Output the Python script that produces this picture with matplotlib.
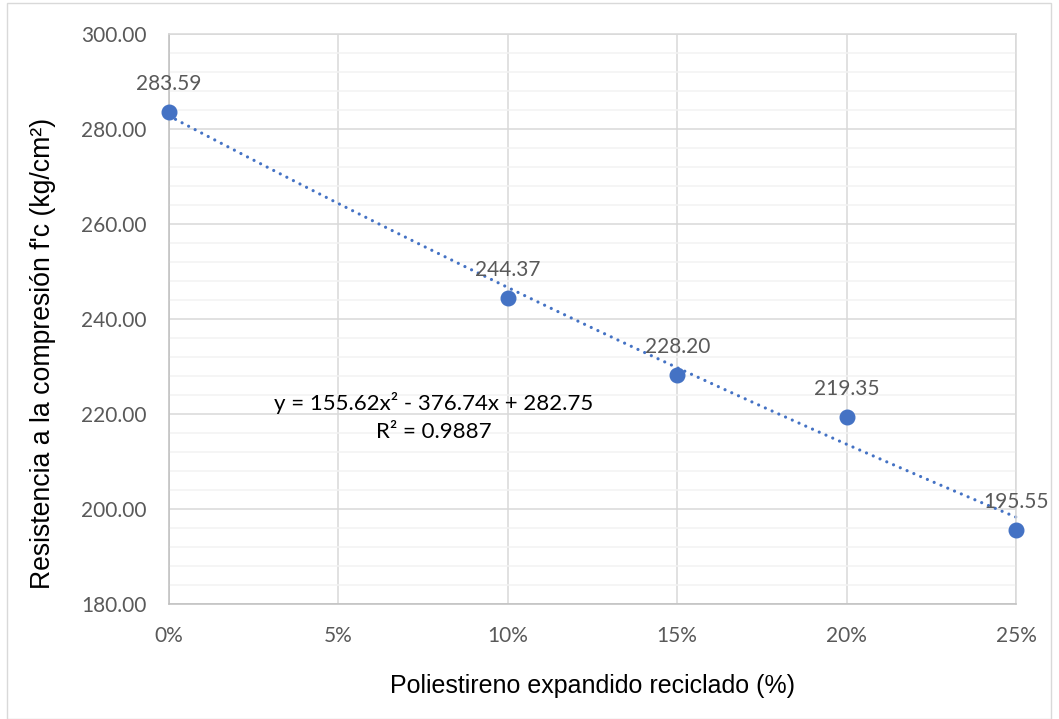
import numpy as np
import matplotlib.pyplot as plt
from matplotlib.ticker import MultipleLocator, FuncFormatter
from matplotlib.patches import Rectangle

# data
pct = [0.00, 0.10, 0.15, 0.20, 0.25]
fc = [283.59, 244.37, 228.20, 219.35, 195.55]
eq_text = "y = 155.62x² - 376.74x + 282.75\nR² = 0.9887"

blue = '#4472C4'
grey_txt = '#595959'

fig = plt.figure(figsize=(10.59, 7.19), dpi=100)
fig.patches.append(Rectangle((7/1059, 0), 1044/1059, 1 - 3/719, transform=fig.transFigure,
                             fill=False, edgecolor='#D9D9D9', lw=1))
ax = fig.add_axes([169/1059, 1 - 604/719, 847/1059, 570/719])

ax.set_xlim(0, 0.25)
ax.set_ylim(180, 300)
ax.xaxis.set_major_locator(MultipleLocator(0.05))
ax.yaxis.set_major_locator(MultipleLocator(20))
ax.yaxis.set_minor_locator(MultipleLocator(4))
ax.xaxis.set_major_formatter(FuncFormatter(lambda v, p: f"{v*100:.0f}%"))
ax.yaxis.set_major_formatter(FuncFormatter(lambda v, p: f"{v:.2f}"))
ax.grid(which='major', color='#D9D9D9', lw=1.1)
ax.grid(which='minor', axis='y', color='#F2F2F2', lw=1.1)
ax.set_axisbelow(True)
for s in ax.spines.values():
    s.set_color('#D9D9D9')
    s.set_linewidth(1.1)
ax.spines['left'].set_color('#BFBFBF')
ax.spines['bottom'].set_color('#BFBFBF')
ax.tick_params(which='both', length=0)
ax.tick_params(axis='x', pad=16)
ax.tick_params(axis='y', pad=16)
for lab in ax.get_xticklabels() + ax.get_yticklabels():
    lab.set_fontfamily('Lato')
    lab.set_fontsize(15)
    lab.set_color(grey_txt)

# polynomial trend line (order 2)
coef = np.polyfit(pct, fc, 2)
xs = np.linspace(0, 0.25, 200)
ax.plot(xs, np.polyval(coef, xs), color=blue, lw=2.3, dashes=(0.01, 2.3),
        dash_capstyle='round', clip_on=False)

ax.plot(pct, fc, 'o', color=blue, ms=10.5, clip_on=False, zorder=5)
for x, y in zip(pct, fc):
    ax.annotate(f"{y:.2f}", (x, y), xytext=(0, 13), textcoords='offset points',
                ha='center', va='bottom', fontsize=15, color=grey_txt, family='Lato')

ax.text(0.313, 0.328, eq_text, transform=ax.transAxes, ha='center', va='center',
        multialignment='center', fontsize=16, family='Lato', color='black',
        linespacing=1.45)

ax.set_xlabel('Poliestireno expandido reciclado (%)', fontsize=18,
              family='Liberation Sans', labelpad=20)
ax.set_ylabel("Resistencia a la compresión f'c (kg/cm²)", fontsize=19.2,
              family='Liberation Sans')
ax.yaxis.set_label_coords(-0.133, 0.44)

fig.savefig('out.png', dpi=100)
